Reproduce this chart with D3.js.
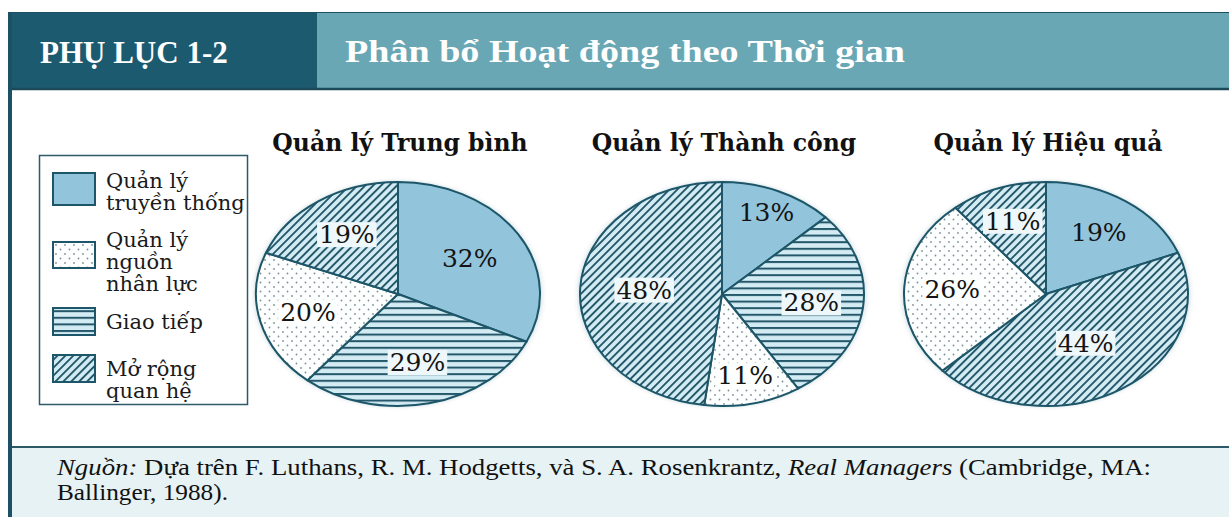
<!DOCTYPE html>
<html><head><meta charset="utf-8">
<script src="https://cdn.jsdelivr.net/npm/d3@7"></script>
<style>body{margin:0;background:#fff}svg{display:block}</style>
</head><body>
<svg id="c" width="1229" height="517"></svg>
<script>
// ---------- DATA ----------
const headerLabel = "PHỤ LỤC 1-2";
const headerTitle = "Phân bổ Hoạt động theo Thời gian";
const categories = ["Quản lý truyền thống", "Giao tiếp", "Quản lý nguồn nhân lực", "Mở rộng quan hệ"]; // clockwise from 12 o'clock
const legendOrder = ["Quản lý truyền thống", "Quản lý nguồn nhân lực", "Giao tiếp", "Mở rộng quan hệ"];
const legendLines = [["Quản lý", "truyền thống"], ["Quản lý", "nguồn", "nhân lực"], ["Giao tiếp"], ["Mở rộng", "quan hệ"]];
const chartTitles = ["Quản lý Trung bình", "Quản lý Thành công", "Quản lý Hiệu quả"];
const averageValues = [32, 29, 20, 19];
const successfulValues = [13, 28, 11, 48];
const effectiveValues = [19, 44, 26, 11];
const seriesValues = [averageValues, successfulValues, effectiveValues];

// ---------- STYLE ----------
const W = 1229, H = 517;
const dark = "#1d5668";
const patternOf = {"Quản lý truyền thống": "blue", "Giao tiếp": "hlines", "Quản lý nguồn nhân lực": "dots", "Mở rộng quan hệ": "diag"};
// the reference draws the 44% slice of the third chart with diagonal hatching
const chartPatternOverride = [{}, {}, {"Giao tiếp": "diag"}];
const rx = 142, ry = 112, k = ry / rx, cy = 294;
// label distance from centre for each slice (style, per chart, slice order)
const labelRadii = [[85, 89, 93, 91], [112, 90, 106, 78], [94, 74, 94, 98]];

const svg = d3.select("#c");
const defs = svg.append("defs");

function makePatterns(suffix, transform) {
  const p1 = defs.append("pattern").attr("id", "hlines" + suffix).attr("patternUnits", "userSpaceOnUse")
    .attr("width", 10).attr("height", 6.6);
  if (transform) p1.attr("patternTransform", transform);
  p1.append("rect").attr("width", 10).attr("height", 6.6).attr("fill", "#d3ebf3");
  p1.append("rect").attr("y", 0).attr("width", 10).attr("height", 2).attr("fill", "#24576a");

  const p2 = defs.append("pattern").attr("id", "diag" + suffix).attr("patternUnits", "userSpaceOnUse")
    .attr("width", 5.6).attr("height", 5.6);
  p2.attr("patternTransform", (transform ? transform + " " : "") + "rotate(45)");
  p2.append("rect").attr("width", 5.6).attr("height", 5.6).attr("fill", "#d3ebf3");
  p2.append("rect").attr("x", 0).attr("width", 1.9).attr("height", 5.6).attr("fill", "#24576a");

  const p3 = defs.append("pattern").attr("id", "dots" + suffix).attr("patternUnits", "userSpaceOnUse")
    .attr("width", 9).attr("height", 9);
  if (transform) p3.attr("patternTransform", transform);
  p3.append("rect").attr("width", 9).attr("height", 9).attr("fill", "#fdfefe");
  p3.append("circle").attr("cx", 2).attr("cy", 2).attr("r", 0.9).attr("fill", "#7e9198");
  p3.append("circle").attr("cx", 6.5).attr("cy", 6.5).attr("r", 0.9).attr("fill", "#7e9198");
}
makePatterns("-leg", null);
makePatterns("-pie", `scale(1,${1 / k})`);
function fillFor(name, suffix) { return name === "blue" ? "#92c5dc" : `url(#${name}${suffix})`; }

const sh = defs.append("filter").attr("id", "shadow").attr("x", "-10%").attr("y", "-10%").attr("width", "120%").attr("height", "120%");
sh.append("feDropShadow").attr("dx", 0).attr("dy", 0).attr("stdDeviation", 3).attr("flood-color", "#1d5668").attr("flood-opacity", 0.35);

// ---------- BACKGROUND / FRAME ----------
svg.append("rect").attr("width", W).attr("height", H).attr("fill", "#ffffff");
// header
svg.append("rect").attr("x", 8).attr("y", 12).attr("width", W - 8).attr("height", 78).attr("fill", "#69a7b5");
svg.append("rect").attr("x", 8).attr("y", 12).attr("width", 309).attr("height", 78).attr("fill", "#1c5a70");
svg.append("line").attr("x1", 8).attr("x2", W).attr("y1", 12.5).attr("y2", 12.5).attr("stroke", "#1c5064").attr("stroke-width", 1);
svg.append("line").attr("x1", 8).attr("x2", W).attr("y1", 89).attr("y2", 89).attr("stroke", "#1c4a5b").attr("stroke-width", 2.5);
svg.append("text").attr("x", 40).attr("y", 63).attr("font-family", "Liberation Serif").attr("font-weight", "bold")
  .attr("font-size", 31).attr("fill", "#ffffff").text(headerLabel);
svg.append("text").attr("x", 345).attr("y", 62).attr("font-family", "Liberation Serif").attr("font-weight", "bold")
  .attr("font-size", 31).attr("textLength", 560).attr("lengthAdjust", "spacingAndGlyphs")
  .attr("fill", "#ffffff").text(headerTitle);
// footer
svg.append("rect").attr("x", 8).attr("y", 447).attr("width", W - 8).attr("height", H - 447).attr("fill", "#e6f2f4");
svg.append("line").attr("x1", 8).attr("x2", W).attr("y1", 447).attr("y2", 447).attr("stroke", "#2d5868").attr("stroke-width", 2);
svg.append("rect").attr("x", 8).attr("y", 12).attr("width", 4).attr("height", H - 12).attr("fill", "#1c5064");

// footer text
const f1 = svg.append("text").attr("x", 57).attr("y", 475).attr("font-family", "Liberation Serif").attr("font-size", 22.5)
  .attr("textLength", 1094).attr("lengthAdjust", "spacingAndGlyphs").attr("fill", "#111");
f1.append("tspan").attr("font-style", "italic").text("Nguồn:");
f1.append("tspan").text(" Dựa trên F. Luthans, R. M. Hodgetts, và S. A. Rosenkrantz, ");
f1.append("tspan").attr("font-style", "italic").text("Real Managers");
f1.append("tspan").text(" (Cambridge, MA:");
svg.append("text").attr("x", 57).attr("y", 500).attr("font-family", "Liberation Serif").attr("font-size", 22.5)
  .attr("textLength", 171).attr("lengthAdjust", "spacingAndGlyphs").attr("fill", "#111").text("Ballinger, 1988).");

// ---------- LEGEND ----------
svg.append("rect").attr("x", 39.5).attr("y", 155.5).attr("width", 208).attr("height", 249)
  .attr("fill", "#fff").attr("stroke", "#2f5a69").attr("stroke-width", 1.5);
const swatchTop = [173, 242, 308, 355], swatchH = [32, 26, 27, 27];
const firstBaseline = [188, 247, 329, 376], lineH = 22;
const lg = svg.append("g");
legendOrder.forEach((cat, i) => {
  lg.append("rect").attr("x", 53).attr("y", swatchTop[i]).attr("width", 42).attr("height", swatchH[i])
    .attr("fill", fillFor(patternOf[cat], "-leg")).attr("stroke", dark).attr("stroke-width", 2);
  legendLines[i].forEach((t, j) => {
    lg.append("text").attr("x", 106).attr("y", firstBaseline[i] + j * lineH)
      .attr("font-family", "DejaVu Serif").attr("font-size", 21).attr("fill", "#1a1a1a").text(t);
  });
});

// ---------- PIES ----------
const xScale = d3.scalePoint().domain(chartTitles).range([398, 1046]);
const pie = d3.pie().sort(null).value(d => d.value);
const arc = d3.arc().innerRadius(0).outerRadius(rx);

chartTitles.forEach((title, ci) => {
  const cx = xScale(title);
  svg.append("text").attr("x", cx + 2).attr("y", 151).attr("text-anchor", "middle")
    .attr("font-family", "DejaVu Serif").attr("font-weight", "bold").attr("font-size", 23.5)
    .attr("fill", "#111").text(title);

  const data = categories.map((c, i) => ({cat: c, value: seriesValues[ci][i]}));
  const arcs = pie(data);
  const g = svg.append("g").attr("transform", `translate(${cx},${cy}) scale(1,${k})`);
  g.append("ellipse").attr("rx", rx).attr("ry", rx).attr("fill", "#fff").attr("filter", "url(#shadow)");
  g.selectAll("path.slice").data(arcs).join("path").attr("class", "slice")
    .attr("d", arc)
    .attr("fill", d => fillFor(chartPatternOverride[ci][d.data.cat] || patternOf[d.data.cat], "-pie"))
    .attr("stroke", dark).attr("stroke-width", 2).attr("vector-effect", "non-scaling-stroke")
    .attr("stroke-linejoin", "round");

  const lgG = svg.append("g").attr("transform", `translate(${cx},${cy})`);
  arcs.forEach((d, si) => {
    const r = labelRadii[ci][si];
    const [lx, ly0] = d3.arc().innerRadius(r).outerRadius(r).centroid(d);
    const ly = ly0 * k;
    const pat = chartPatternOverride[ci][d.data.cat] || patternOf[d.data.cat];
    const t = lgG.append("text").attr("x", lx).attr("y", ly).attr("text-anchor", "middle")
      .attr("dominant-baseline", "central").attr("font-family", "DejaVu Serif").attr("font-size", 25)
      .attr("fill", "#141414").text(d.data.value + "%");
    if (pat !== "blue") {
      const b = t.node().getBBox();
      lgG.insert("rect", "text").attr("x", b.x - 2).attr("y", b.y + 2).attr("width", b.width + 4).attr("height", b.height - 4)
        .attr("fill", pat === "dots" ? "#fdfefe" : "#eef7fa");
    }
  });
});
</script>
</body></html>
